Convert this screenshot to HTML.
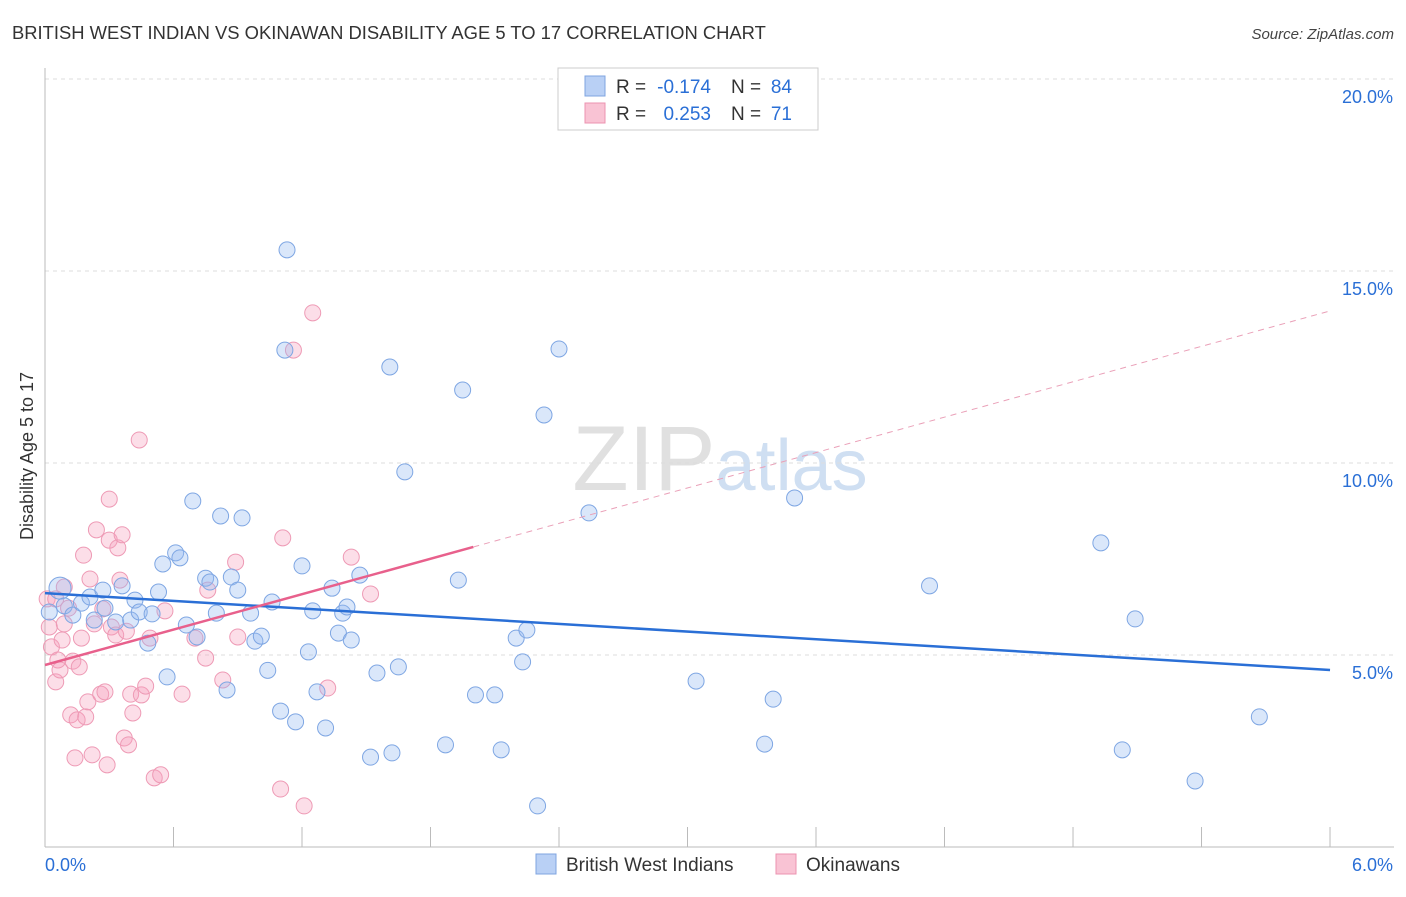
<!DOCTYPE html>
<html><head><meta charset="utf-8"><style>
body{margin:0;background:#fff;font-family:"Liberation Sans",sans-serif}
svg text{font-family:"Liberation Sans",sans-serif}
</style></head><body>
<svg id="chart" width="1406" height="892" xmlns="http://www.w3.org/2000/svg">
<text x="12" y="39" font-size="18.4" fill="#333">BRITISH WEST INDIAN VS OKINAWAN DISABILITY AGE 5 TO 17 CORRELATION CHART</text>
<text x="1394" y="39" font-size="15" fill="#444" text-anchor="end" font-style="italic">Source: ZipAtlas.com</text>
<text transform="translate(33,456) rotate(-90)" font-size="18" fill="#333" text-anchor="middle">Disability Age 5 to 17</text>
<text x="720" y="490" font-size="92" text-anchor="middle" fill="#ddd" font-family="Liberation Serif"><tspan fill="#e0e0e0">ZIP</tspan><tspan fill="#cfdff2" font-family="Liberation Sans" font-size="72">atlas</tspan></text>
<g id="grid"></g><g id="ticks"></g><g id="pts"></g><g id="lines"></g>
<g>
<rect x="558" y="68" width="260" height="62" fill="#fff" stroke="#ccc"/>
<rect x="585" y="76" width="20" height="20" fill="#b9d0f5" stroke="#7fa4e0"/>
<rect x="585" y="103" width="20" height="20" fill="#f9c3d4" stroke="#ec93b0"/>
<text x="616" y="93" font-size="19" fill="#333">R =</text>
<text x="711" y="93" font-size="19" fill="#2a6fd6" text-anchor="end">-0.174</text>
<text x="731" y="93" font-size="19" fill="#333">N =</text>
<text x="792" y="93" font-size="19" fill="#2a6fd6" text-anchor="end">84</text>
<text x="616" y="120" font-size="19" fill="#333">R =</text>
<text x="711" y="120" font-size="19" fill="#2a6fd6" text-anchor="end">0.253</text>
<text x="731" y="120" font-size="19" fill="#333">N =</text>
<text x="792" y="120" font-size="19" fill="#2a6fd6" text-anchor="end">71</text>
</g>
<g>
<rect x="536" y="854" width="20" height="20" fill="#b9d0f5" stroke="#7fa4e0"/>
<text x="566" y="871" font-size="19" fill="#333">British West Indians</text>
<rect x="776" y="854" width="20" height="20" fill="#f9c3d4" stroke="#ec93b0"/>
<text x="806" y="871" font-size="19" fill="#333">Okinawans</text>
</g>
</svg>
<script>
const yTicks=[5,10,15,20];
const xTickLabels=["0.0%","6.0%"];
const blueX=[0.07,0.02,0.09,0.13,0.17,0.21,0.23,0.27,0.28,0.33,0.36,0.40,0.42,0.44,0.48,0.50,0.53,0.55,0.57,0.61,0.63,0.66,0.69,0.71,0.75,0.77,0.80,0.82,0.85,0.87,0.90,0.92,0.96,0.98,1.01,1.04,1.06,1.10,1.12,1.13,1.17,1.20,1.23,1.25,1.27,1.31,1.34,1.37,1.39,1.41,1.43,1.47,1.52,1.55,1.61,1.62,1.65,1.68,1.87,1.95,1.93,2.01,2.10,2.13,2.20,2.23,2.25,2.30,2.33,2.40,2.54,3.04,3.36,3.40,3.50,4.13,4.93,5.03,5.09,5.37,5.67];
const blueY=[6.74,6.12,6.28,6.04,6.35,6.51,5.91,6.69,6.22,5.86,6.80,5.91,6.43,6.12,5.31,6.07,6.64,7.37,4.43,7.66,7.53,5.78,9.01,5.47,7.00,6.90,6.09,8.62,4.09,7.03,6.69,8.57,6.09,5.36,5.49,4.60,6.38,3.54,12.94,15.55,3.26,7.32,5.08,6.15,4.04,3.10,6.74,5.57,6.09,6.25,5.39,7.08,2.34,4.53,12.50,2.45,4.69,9.77,2.66,11.90,6.95,3.96,3.96,2.53,5.44,4.82,5.65,1.07,11.25,12.97,8.70,4.32,2.68,3.85,9.09,6.80,7.92,2.53,5.94,1.72,3.39];
const pinkX=[0.02,0.03,0.05,0.06,0.07,0.08,0.09,0.11,0.12,0.13,0.14,0.15,0.16,0.17,0.18,0.19,0.20,0.21,0.22,0.23,0.24,0.26,0.27,0.28,0.29,0.30,0.31,0.33,0.34,0.35,0.36,0.37,0.38,0.39,0.40,0.41,0.44,0.45,0.47,0.49,0.51,0.54,0.56,0.64,0.70,0.75,0.76,0.83,0.89,0.90,1.11,1.10,1.16,1.21,1.25,1.32,1.43,1.52,0.30,0.09,0.01,0.05];
const pinkY=[5.73,5.21,4.30,4.87,4.61,5.39,5.81,6.22,3.44,4.84,2.32,3.31,4.69,5.44,7.60,3.39,3.78,6.98,2.40,5.81,8.26,3.98,6.20,4.04,2.14,7.99,5.73,5.52,7.79,6.95,8.13,2.84,5.62,2.66,3.98,3.49,10.60,3.96,4.19,5.44,1.80,1.88,6.15,3.98,5.44,4.92,6.69,4.35,7.42,5.47,8.05,1.51,12.94,1.07,13.91,4.14,7.55,6.59,9.06,6.77,6.46,6.46];
const X=v=>45+v*214.17, Y=v=>847-v*38.4;
const NS="http://www.w3.org/2000/svg";
function mk(t,a,p){const e=document.createElementNS(NS,t);for(const k in a)e.setAttribute(k,a[k]);p.appendChild(e);return e;}
const grid=document.getElementById('grid'),ticks=document.getElementById('ticks'),pts=document.getElementById('pts'),lines=document.getElementById('lines');
yTicks.forEach(v=>{
 const l=mk('line',{x1:45,x2:1394,y1:Y(v),y2:Y(v),stroke:'#ddd','stroke-dasharray':'4,4'},grid);
 
 
 const t=mk('text',{x:1393,y:Y(v)+24,'font-size':18,fill:'#2a6fd6','text-anchor':'end'},grid);t.textContent=v.toFixed(1)+'%';
 
 
});
mk('line',{x1:45,x2:45,y1:68,y2:847,stroke:'#bbb'},ticks);
mk('line',{x1:45,x2:1394,y1:847,y2:847,stroke:'#bbb'},ticks);
for(let i=0;i<=10;i++){const x=X(i*0.6);mk('line',{x1:x,x2:x,y1:827,y2:847,stroke:'#bbb'},ticks);}
const t0=mk('text',{x:45,y:871,'font-size':18,fill:'#2a6fd6'},ticks);t0.textContent=xTickLabels[0];


const t1=mk('text',{x:1393,y:871,'font-size':18,fill:'#2a6fd6','text-anchor':'end'},ticks);t1.textContent=xTickLabels[1];


pinkX.forEach((v,i)=>{const c=mk('circle',{cx:X(v),cy:Y(pinkY[i]),r:8,fill:'rgba(245,160,190,0.35)',stroke:'#ee9ab5','stroke-width':1},pts);
 
 });
blueX.forEach((v,i)=>{const c=mk('circle',{cx:X(v),cy:Y(blueY[i]),r:i==0?11:8,fill:'rgba(150,185,240,0.35)',stroke:'#7ea6e3','stroke-width':1},pts);
 
 });
const bl=mk('line',{x1:X(0),y1:Y(6.61),x2:X(6),y2:Y(4.61),stroke:'#2a6fd6','stroke-width':2.5},lines);


const pk=a=>4.74+a*(13.96-4.74)/6;
const pl=mk('line',{x1:X(0),y1:Y(pk(0)),x2:X(2.0),y2:Y(pk(2.0)),stroke:'#e8608c','stroke-width':2.5},lines);


const pd=mk('line',{x1:X(2.0),y1:Y(pk(2.0)),x2:X(6),y2:Y(pk(6)),stroke:'#eaa0b8','stroke-width':1,'stroke-dasharray':'6,5'},lines);


</script>
</body></html>
